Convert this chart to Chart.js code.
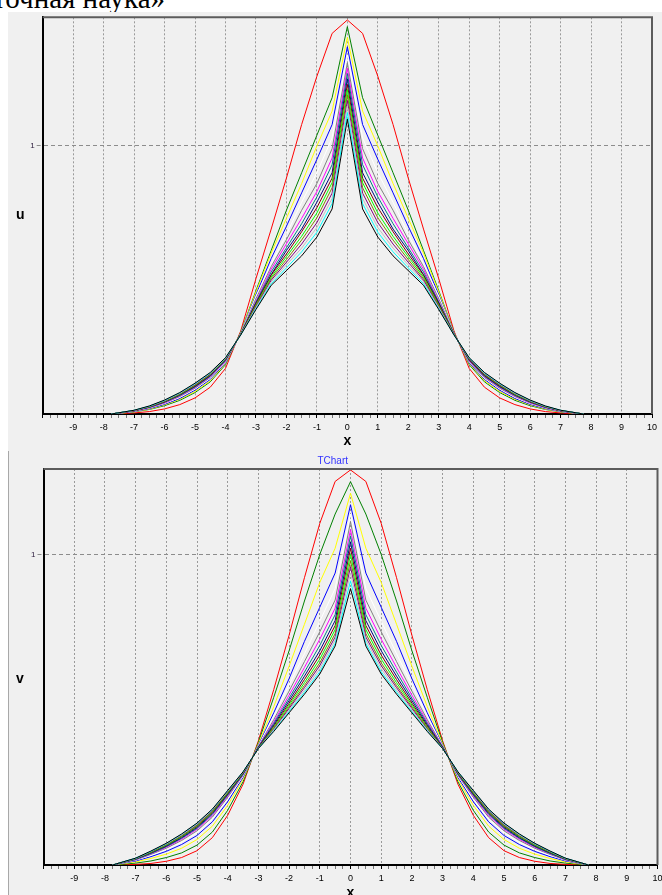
<!DOCTYPE html>
<html>
<head>
<meta charset="utf-8">
<script src="https://cdn.jsdelivr.net/npm/chart.js@4.4.1/dist/chart.umd.min.js"></script>
<style>
  html, body { margin: 0; padding: 0; background: #fff; width: 662px; height: 895px; overflow: hidden; }
  .panel { position: absolute; background: #f0f0f0; overflow: hidden; }
  #panelU { left: 8px; top: 0; width: 654px; height: 450px; }
  #panelV { left: 8px; top: 450px; width: 654px; height: 445px; }
  #edgeV { position: absolute; left: 8px; top: 451px; width: 1px; height: 444px; background: #a8a8a8; z-index: 2; }
  #heading { position: absolute; left: 0; top: 0; width: 662px; height: 12px; background: #fff; overflow: hidden; z-index: 3; }
  #heading span { position: absolute; left: -7px; top: -16px; font: 29px/29px 'Liberation Serif', 'Times New Roman', serif; white-space: nowrap; color: #000; }
  .ytitle { position: absolute; font: bold 14px/16px 'Liberation Sans', Arial, sans-serif; color: #000; z-index: 2; }
  canvas { position: absolute; left: 0; top: 0; }
</style>
</head>
<body>
<div id="heading"><span>точная наука»</span></div>
<div class="panel" id="panelU"><canvas id="chartU" width="654" height="450"></canvas></div>
<div class="panel" id="panelV"><canvas id="chartV" width="664" height="460"></canvas></div>
<div id="edgeV"></div>
<div class="ytitle" style="left:16px; top:206px;">u</div>
<div class="ytitle" style="left:16px; top:670px;">v</div>
<script>
// x positions of the computed nodes
const xValues = [-7.75, -7, -6.5, -6, -5.5, -5, -4.5, -4, -3.5, -3, -2.5, -2, -1.5, -1, -0.5, 0,
                 0.5, 1, 1.5, 2, 2.5, 3, 3.5, 4, 4.5, 5, 5.5, 6, 6.5, 7, 7.75];

// upper chart, u(x)
const uRed     = [0, 0.004, 0.009, 0.019, 0.035, 0.06, 0.10, 0.17, 0.31, 0.505, 0.69, 0.88, 1.08, 1.26, 1.42, 1.47, 1.42, 1.26, 1.08, 0.88, 0.69, 0.505, 0.31, 0.17, 0.10, 0.06, 0.035, 0.019, 0.009, 0.004, 0];
const uGreen   = [0, 0.008, 0.017, 0.031, 0.051, 0.08, 0.12, 0.184, 0.305, 0.46, 0.61, 0.76, 0.90, 1.04, 1.18, 1.445, 1.18, 1.04, 0.90, 0.76, 0.61, 0.46, 0.305, 0.184, 0.12, 0.08, 0.051, 0.031, 0.017, 0.008, 0];
const uYellow  = [0, 0.008, 0.018, 0.034, 0.055, 0.084, 0.124, 0.188, 0.303, 0.455, 0.60, 0.73, 0.86, 1.00, 1.13, 1.405, 1.13, 1.00, 0.86, 0.73, 0.60, 0.455, 0.303, 0.188, 0.124, 0.084, 0.055, 0.034, 0.018, 0.008, 0];
const uBlue    = [0, 0.009, 0.02, 0.036, 0.058, 0.089, 0.129, 0.191, 0.302, 0.445, 0.58, 0.70, 0.825, 0.95, 1.08, 1.37, 1.08, 0.95, 0.825, 0.70, 0.58, 0.445, 0.302, 0.191, 0.129, 0.089, 0.058, 0.036, 0.02, 0.009, 0];
const uWhite   = [0, 0.01, 0.022, 0.039, 0.062, 0.093, 0.133, 0.194, 0.301, 0.44, 0.56, 0.67, 0.79, 0.90, 1.03, 1.34, 1.03, 0.90, 0.79, 0.67, 0.56, 0.44, 0.301, 0.194, 0.133, 0.093, 0.062, 0.039, 0.022, 0.01, 0];
const uGray    = [0, 0.011, 0.023, 0.041, 0.065, 0.096, 0.136, 0.196, 0.30, 0.43, 0.55, 0.65, 0.76, 0.86, 0.99, 1.31, 0.99, 0.86, 0.76, 0.65, 0.55, 0.43, 0.30, 0.196, 0.136, 0.096, 0.065, 0.041, 0.023, 0.011, 0];
const uFuchsia = [0, 0.011, 0.024, 0.042, 0.067, 0.099, 0.139, 0.198, 0.299, 0.42, 0.54, 0.635, 0.73, 0.83, 0.955, 1.29, 0.955, 0.83, 0.73, 0.635, 0.54, 0.42, 0.299, 0.198, 0.139, 0.099, 0.067, 0.042, 0.024, 0.011, 0];
const uTeal    = [0, 0.012, 0.025, 0.044, 0.069, 0.101, 0.141, 0.20, 0.299, 0.417, 0.53, 0.62, 0.71, 0.81, 0.93, 1.27, 0.93, 0.81, 0.71, 0.62, 0.53, 0.417, 0.299, 0.20, 0.141, 0.101, 0.069, 0.044, 0.025, 0.012, 0];
const uNavy    = [0, 0.012, 0.026, 0.045, 0.071, 0.103, 0.143, 0.202, 0.298, 0.414, 0.52, 0.61, 0.69, 0.79, 0.90, 1.25, 0.90, 0.79, 0.69, 0.61, 0.52, 0.414, 0.298, 0.202, 0.143, 0.103, 0.071, 0.045, 0.026, 0.012, 0];
const uMaroon  = [0, 0.012, 0.026, 0.046, 0.072, 0.105, 0.145, 0.203, 0.298, 0.411, 0.518, 0.597, 0.68, 0.77, 0.88, 1.23, 0.88, 0.77, 0.68, 0.597, 0.518, 0.411, 0.298, 0.203, 0.145, 0.105, 0.072, 0.046, 0.026, 0.012, 0];
const uLime    = [0, 0.013, 0.027, 0.047, 0.073, 0.107, 0.147, 0.204, 0.297, 0.407, 0.511, 0.587, 0.663, 0.75, 0.863, 1.21, 0.863, 0.75, 0.663, 0.587, 0.511, 0.407, 0.297, 0.204, 0.147, 0.107, 0.073, 0.047, 0.027, 0.013, 0];
const uOlive   = [0, 0.013, 0.027, 0.048, 0.075, 0.108, 0.148, 0.205, 0.297, 0.404, 0.505, 0.576, 0.649, 0.732, 0.844, 1.19, 0.844, 0.732, 0.649, 0.576, 0.505, 0.404, 0.297, 0.205, 0.148, 0.108, 0.075, 0.048, 0.027, 0.013, 0];
const uPurple  = [0, 0.013, 0.028, 0.049, 0.076, 0.11, 0.15, 0.206, 0.296, 0.40, 0.499, 0.566, 0.634, 0.714, 0.824, 1.17, 0.824, 0.714, 0.634, 0.566, 0.499, 0.40, 0.296, 0.206, 0.15, 0.11, 0.076, 0.049, 0.028, 0.013, 0];
const uSilver  = [0, 0.013, 0.029, 0.05, 0.077, 0.112, 0.152, 0.208, 0.296, 0.397, 0.493, 0.556, 0.619, 0.696, 0.804, 1.15, 0.804, 0.696, 0.619, 0.556, 0.493, 0.397, 0.296, 0.208, 0.152, 0.112, 0.077, 0.05, 0.029, 0.013, 0];
const uAqua    = [0, 0.014, 0.029, 0.051, 0.079, 0.113, 0.153, 0.209, 0.295, 0.393, 0.486, 0.545, 0.605, 0.678, 0.785, 1.125, 0.785, 0.678, 0.605, 0.545, 0.486, 0.393, 0.295, 0.209, 0.153, 0.113, 0.079, 0.051, 0.029, 0.014, 0];
const uBlack   = [0, 0.014, 0.03, 0.052, 0.08, 0.115, 0.155, 0.21, 0.295, 0.39, 0.48, 0.535, 0.59, 0.66, 0.765, 1.10, 0.765, 0.66, 0.59, 0.535, 0.48, 0.39, 0.295, 0.21, 0.155, 0.115, 0.08, 0.052, 0.03, 0.014, 0];

// lower chart, v(x)
const vRed     = [0, 0.002, 0.005, 0.012, 0.024, 0.046, 0.088, 0.16, 0.26, 0.40, 0.565, 0.74, 0.925, 1.10, 1.235, 1.272, 1.235, 1.10, 0.925, 0.74, 0.565, 0.40, 0.26, 0.16, 0.088, 0.046, 0.024, 0.012, 0.005, 0.002, 0];
const vGreen   = [0, 0.006, 0.013, 0.024, 0.039, 0.064, 0.106, 0.176, 0.268, 0.395, 0.54, 0.69, 0.85, 1.00, 1.13, 1.234, 1.13, 1.00, 0.85, 0.69, 0.54, 0.395, 0.268, 0.176, 0.106, 0.064, 0.039, 0.024, 0.013, 0.006, 0];
const vYellow  = [0, 0.01, 0.021, 0.035, 0.054, 0.082, 0.125, 0.192, 0.276, 0.39, 0.51, 0.64, 0.775, 0.91, 1.02, 1.197, 1.02, 0.91, 0.775, 0.64, 0.51, 0.39, 0.276, 0.192, 0.125, 0.082, 0.054, 0.035, 0.021, 0.01, 0];
const vBlue    = [0, 0.013, 0.027, 0.044, 0.066, 0.095, 0.139, 0.204, 0.282, 0.386, 0.49, 0.60, 0.72, 0.83, 0.94, 1.16, 0.94, 0.83, 0.72, 0.60, 0.49, 0.386, 0.282, 0.204, 0.139, 0.095, 0.066, 0.044, 0.027, 0.013, 0];
const vWhite   = [0, 0.015, 0.031, 0.05, 0.073, 0.104, 0.148, 0.212, 0.286, 0.384, 0.48, 0.58, 0.68, 0.785, 0.89, 1.13, 0.89, 0.785, 0.68, 0.58, 0.48, 0.384, 0.286, 0.212, 0.148, 0.104, 0.073, 0.05, 0.031, 0.015, 0];
const vGray    = [0, 0.016, 0.034, 0.054, 0.079, 0.11, 0.154, 0.218, 0.289, 0.382, 0.468, 0.56, 0.655, 0.751, 0.853, 1.105, 0.853, 0.751, 0.655, 0.56, 0.468, 0.382, 0.289, 0.218, 0.154, 0.11, 0.079, 0.054, 0.034, 0.016, 0];
const vFuchsia = [0, 0.017, 0.036, 0.057, 0.083, 0.115, 0.159, 0.222, 0.291, 0.381, 0.461, 0.547, 0.636, 0.727, 0.827, 1.08, 0.827, 0.727, 0.636, 0.547, 0.461, 0.381, 0.291, 0.222, 0.159, 0.115, 0.083, 0.057, 0.036, 0.017, 0];
const vTeal    = [0, 0.018, 0.037, 0.059, 0.086, 0.118, 0.163, 0.225, 0.292, 0.38, 0.456, 0.537, 0.621, 0.707, 0.806, 1.06, 0.806, 0.707, 0.621, 0.537, 0.456, 0.38, 0.292, 0.225, 0.163, 0.118, 0.086, 0.059, 0.037, 0.018, 0];
const vNavy    = [0, 0.019, 0.039, 0.061, 0.088, 0.121, 0.166, 0.228, 0.294, 0.379, 0.451, 0.529, 0.608, 0.69, 0.787, 1.04, 0.787, 0.69, 0.608, 0.529, 0.451, 0.379, 0.294, 0.228, 0.166, 0.121, 0.088, 0.061, 0.039, 0.019, 0];
const vMaroon  = [0, 0.02, 0.04, 0.063, 0.091, 0.124, 0.169, 0.23, 0.295, 0.378, 0.447, 0.521, 0.597, 0.676, 0.771, 1.02, 0.771, 0.676, 0.597, 0.521, 0.447, 0.378, 0.295, 0.23, 0.169, 0.124, 0.091, 0.063, 0.04, 0.02, 0];
const vLime    = [0, 0.02, 0.041, 0.064, 0.092, 0.126, 0.171, 0.232, 0.296, 0.377, 0.443, 0.515, 0.587, 0.663, 0.758, 1.00, 0.758, 0.663, 0.587, 0.515, 0.443, 0.377, 0.296, 0.232, 0.171, 0.126, 0.092, 0.064, 0.041, 0.02, 0];
const vOlive   = [0, 0.021, 0.042, 0.066, 0.094, 0.128, 0.173, 0.234, 0.297, 0.376, 0.44, 0.509, 0.578, 0.651, 0.745, 0.98, 0.745, 0.651, 0.578, 0.509, 0.44, 0.376, 0.297, 0.234, 0.173, 0.128, 0.094, 0.066, 0.042, 0.021, 0];
const vPurple  = [0, 0.021, 0.043, 0.067, 0.096, 0.13, 0.175, 0.236, 0.298, 0.376, 0.437, 0.504, 0.571, 0.642, 0.734, 0.96, 0.734, 0.642, 0.571, 0.504, 0.437, 0.376, 0.298, 0.236, 0.175, 0.13, 0.096, 0.067, 0.043, 0.021, 0];
const vSilver  = [0, 0.021, 0.044, 0.068, 0.097, 0.132, 0.177, 0.237, 0.299, 0.375, 0.435, 0.499, 0.563, 0.632, 0.724, 0.94, 0.724, 0.632, 0.563, 0.499, 0.435, 0.375, 0.299, 0.237, 0.177, 0.132, 0.097, 0.068, 0.044, 0.021, 0];
const vAqua    = [0, 0.022, 0.044, 0.069, 0.099, 0.134, 0.179, 0.239, 0.30, 0.375, 0.432, 0.494, 0.556, 0.622, 0.713, 0.915, 0.713, 0.622, 0.556, 0.494, 0.432, 0.375, 0.30, 0.239, 0.179, 0.134, 0.099, 0.069, 0.044, 0.022, 0];
const vBlack   = [0, 0.022, 0.045, 0.07, 0.10, 0.135, 0.18, 0.24, 0.30, 0.375, 0.43, 0.49, 0.55, 0.615, 0.705, 0.89, 0.705, 0.615, 0.55, 0.49, 0.43, 0.375, 0.30, 0.24, 0.18, 0.135, 0.10, 0.07, 0.045, 0.022, 0];

const uSeries = [uRed, uGreen, uYellow, uBlue, uWhite, uGray, uFuchsia, uTeal, uNavy, uMaroon, uLime, uOlive, uPurple, uSilver, uAqua, uBlack];
const vSeries = [vRed, vGreen, vYellow, vBlue, vWhite, vGray, vFuchsia, vTeal, vNavy, vMaroon, vLime, vOlive, vPurple, vSilver, vAqua, vBlack];

// TeeChart default palette
const seriesColors = ['#ff0000', '#008000', '#ffff00', '#0000ff', '#ffffff', '#808080', '#ff00ff', '#008080',
                      '#000080', '#800000', '#00ff00', '#808000', '#800080', '#c0c0c0', '#00ffff', '#000000'];

const yTicks = [1];
const uMax = 1.48;
const vMax = 1.275;

Chart.defaults.font.family = "'Liberation Sans', Arial, sans-serif";

// top and right edge of the plot frame
const frameLines = {
    id: 'frameLines',
    afterDatasetsDraw(chart) {
        const { ctx, chartArea: a } = chart;
        ctx.save();
        ctx.strokeStyle = '#5c5c5c';
        ctx.lineWidth = 2;
        ctx.beginPath();
        ctx.moveTo(a.left, a.top);
        ctx.lineTo(a.right, a.top);
        ctx.lineTo(a.right, a.bottom);
        ctx.stroke();
        ctx.restore();
    }
};

function makeChart(id, rows, yMax, geo) {
    const ctx = document.getElementById(id).getContext('2d');
    return new Chart(ctx, {
        type: 'line',
        data: {
            datasets: rows.map((row, i) => ({
                data: row.map((y, j) => ({ x: xValues[j], y: y })),
                borderColor: seriesColors[i],
                borderWidth: 1,
                pointRadius: 0,
                fill: false,
                tension: 0,
                order: rows.length - i
            }))
        },
        options: {
            responsive: false,
            animation: false,
            events: [],
            layout: { padding: { left: 0, right: geo.right, top: 0, bottom: 0 } },
            plugins: {
                legend: { display: false },
                tooltip: { enabled: false },
                title: {
                    display: true,
                    text: 'TChart',
                    color: '#3333ff',
                    font: { size: 10, weight: 'normal' },
                    padding: { top: geo.titleTop, bottom: geo.titleBottom }
                }
            },
            scales: {
                x: {
                    type: 'linear',
                    min: -10,
                    max: 10,
                    afterFit: s => { s.height = geo.xHeight; },
                    ticks: {
                        stepSize: 0.25,
                        autoSkip: false,
                        maxRotation: 0,
                        minRotation: 0,
                        padding: 4,
                        color: '#000',
                        font: { size: 9 },
                        callback: v => (Number.isInteger(v) && v > -10) ? String(v) : ''
                    },
                    grid: {
                        color: c => (Number.isInteger(c.tick.value) && Math.abs(c.tick.value) < 10) ? '#9a9a9a' : 'rgba(0,0,0,0)',
                        tickColor: c => Number.isInteger(c.tick.value) ? '#000' : '#777',
                        tickLength: 4,
                        lineWidth: 1
                    },
                    border: { color: '#000', width: 2, dash: [2, 2] },
                    title: {
                        display: true,
                        text: 'x',
                        color: '#000',
                        font: { size: 14, weight: 'bold' },
                        padding: { top: 0, bottom: geo.xTitleBottom }
                    }
                },
                y: {
                    min: 0,
                    max: yMax,
                    afterBuildTicks: s => { s.ticks = yTicks.map(v => ({ value: v })); },
                    afterFit: s => { s.width = geo.yWidth; },
                    ticks: { color: '#302040', font: { size: 8 }, padding: 2 },
                    grid: { color: '#8c8c8c', tickLength: 6, tickBorderDash: [4, 3], lineWidth: 1 },
                    border: { color: '#000', width: 2, dash: [4, 3] }
                }
            }
        },
        plugins: [frameLines]
    });
}

makeChart('chartU', uSeries, uMax, { right: 10, titleTop: 3, titleBottom: 2.3, xHeight: 36, xTitleBottom: 0.5, yWidth: 34.7 });
makeChart('chartV', vSeries, vMax, { right: 14.5, titleTop: 5, titleBottom: 2, xHeight: 45, xTitleBottom: 8.6, yWidth: 35.5 });
</script>
</body>
</html>
